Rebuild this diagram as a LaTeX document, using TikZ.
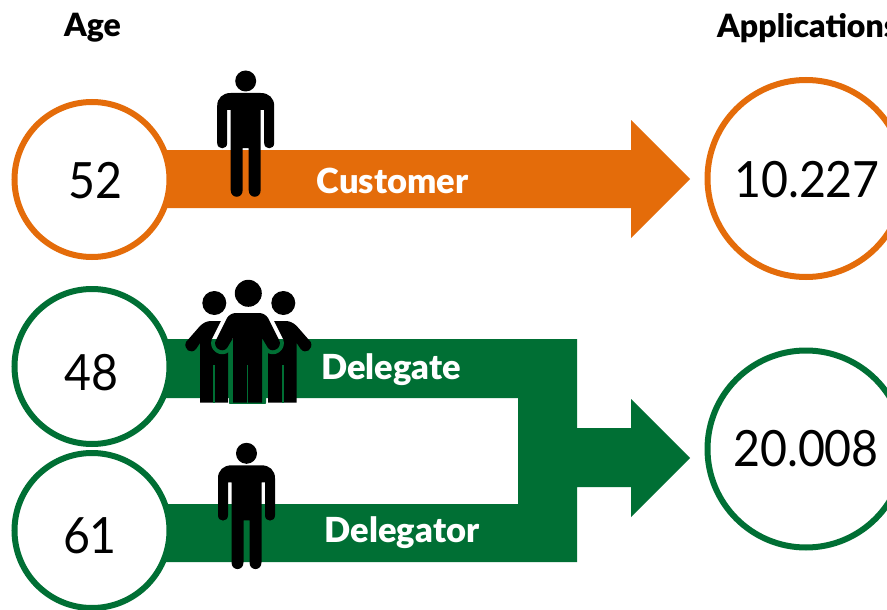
\documentclass[tikz,border=0pt]{standalone}
\usepackage{fontspec}
\setmainfont[BoldFont={Lato Black}]{Lato}
\newfontfamily\numfont[FakeStretch=0.93]{Lato}
\definecolor{orangeC}{HTML}{E46C0A}
\definecolor{greenC}{HTML}{006F34}
\tikzset{
  x=1pt,y=-1pt,
  ring/.style={circle,draw,line width=6pt,fill=white,inner sep=0pt},
  smallring/.style={ring,minimum size=155pt},
  bigring/.style={ring,minimum size=197pt},
  numtext/.style={inner sep=0pt,text=black,font=\numfont\fontsize{50}{50}\selectfont},
  heading/.style={font=\bfseries\fontsize{32}{32}\selectfont,text=black,inner sep=0pt},
  barlabel/.style={font=\bfseries\fontsize{34.5}{35}\selectfont,text=white,inner sep=0pt},
  icon/.style={fill=black,draw=none},
}
\newcommand{\personshape}{
  (-15,12) -- (15,12) .. controls (23,12) and (28.5,17) .. (28.5,25)
  -- (28.5,62) .. controls (28.5,69) and (18.5,69) .. (18.5,62) -- (18.5,29) -- (15,29)
  -- (15,109) .. controls (15,118) and (3,118) .. (3,109) -- (3,67) -- (-3,67) -- (-3,109)
  .. controls (-3,118) and (-15,118) .. (-15,109) -- (-15,29) -- (-18.5,29) -- (-18.5,62)
  .. controls (-18.5,69) and (-28.5,69) .. (-28.5,62) -- (-28.5,25)
  .. controls (-28.5,17) and (-23,12) .. (-15,12) -- cycle
}
\newcommand{\centerbody}{
  (233,402.7) -- (233,338) -- (227,348) .. controls (222,354) and (212,347) .. (216,340)
  -- (227,318) .. controls (229,315) and (232,313) .. (236,313) -- (259,313)
  .. controls (263,313) and (266,315) .. (268,318) -- (279,340)
  .. controls (283,347) and (273,354) .. (268,348) -- (262,338) -- (262,402.7) -- cycle
}
\begin{document}
\begin{tikzpicture}
\useasboundingbox (0,0) rectangle (887,610);
\clip (0,0) rectangle (887,610);
\fill[white] (0,0) rectangle (887,610);
% arrows
\fill[orangeC] (150,150) -- (631,150) -- (631,120) -- (690,179) -- (631,238) -- (631,208) -- (150,208) -- cycle;
\fill[greenC] (150,339) -- (577,339) -- (577,428) -- (631,428) -- (631,399) -- (690,458) -- (631,517) -- (631,487) -- (577,487) -- (577,562) -- (150,562) -- (150,504) -- (518,504) -- (518,398) -- (150,398) -- cycle;
% rings
\node[smallring,draw=orangeC] (age1) at (92,179.5) {};
\node[smallring,draw=greenC] (age2) at (92,366.5) {};
\node[smallring,draw=greenC] (age3) at (92,530.5) {};
\node[bigring,draw=orangeC] (app1) at (806,178.5) {};
\node[bigring,draw=greenC] (app2) at (806,449) {};
% numbers
\node[numtext] (n1) at (95,181) {52};
\node[numtext] (n2) at (91,373) {48};
\node[numtext] (n3) at (90,536) {61};
\node[numtext] (n4) at (807,180) {10.227};
\node[numtext] (n5) at (806,449) {20.008};
% headings
\node[heading] (hAge) at (92.5,28) {Age};
\node[heading,anchor=west] (hApp) at (717,28) {Applications};
% labels
\node[barlabel] (lCust) at (392.5,181) {Customer};
\node[barlabel] (lDele) at (391,370) {Delegate};
\node[barlabel] (lDeleg) at (402,533) {Delegator};
% single persons
\begin{scope}[shift={(245.7,81)}]
  \fill[icon] (0,0) circle[radius=10.5];
  \fill[icon] \personshape;
\end{scope}
\begin{scope}[shift={(246.5,453.3)}]
  \fill[icon] (0,0) circle[radius=10.5];
  \fill[icon] \personshape;
\end{scope}
% group
\fill[icon] (214.3,303) circle[radius=12];
\fill[icon] (283.3,303) circle[radius=12];
\fill[icon] (248.3,293.3) circle[radius=13.5];
\fill[icon] (200,402.7) -- (200,343) -- (196,349) .. controls (191,355) and (183,349) .. (186,342)
  -- (200,326) .. controls (203,323) and (207,321) .. (211,321) -- (228,321) -- (228,402.7) -- cycle;
\fill[icon] (296.7,402.7) -- (296.7,343) -- (300.7,349) .. controls (305.7,355) and (313.7,349) .. (310.7,342)
  -- (296.7,326) .. controls (293.7,323) and (289.7,321) .. (285.7,321) -- (268,321) -- (268,402.7) -- cycle;
\draw[greenC,line width=1.5pt] (214,365) -- (214,402.7);
\draw[greenC,line width=1.5pt] (283,365) -- (283,402.7);
\begin{scope}
  \clip (170,270) rectangle (330,339);
  \draw[white,line width=8pt,line join=round] \centerbody;
\end{scope}
\begin{scope}
  \clip (170,339) rectangle (330,403);
  \draw[greenC,line width=8pt,line join=round] \centerbody;
\end{scope}
\fill[icon] \centerbody;
\draw[greenC,line width=1.5pt] (247.5,365) -- (247.5,402.7);
\end{tikzpicture}
\end{document}
